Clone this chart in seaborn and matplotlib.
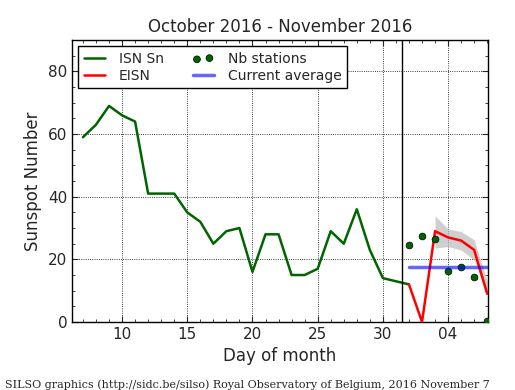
import matplotlib
matplotlib.use("Agg")
import matplotlib.pyplot as plt
from matplotlib.ticker import MultipleLocator
import seaborn as sns
import numpy as np

# daily total sunspot number (day of month, Oct 7 -> Nov 1 = day 32)
isn_days = list(range(7, 33))
isn_vals = [59, 63, 69, 66, 64, 41, 41, 41, 35, 32, 25, 29, 30, 16, 28, 28,
            15, 15, 17, 29, 25, 36, 23, 14, 13, 12]

# estimated ISN (Nov 1 -> Nov 7)
eisn_days = [32, 33, 34, 35, 36, 37, 38]
eisn_vals = [12, 0, 29, 27, 26, 23, 9]

# error band around EISN
band_days = [34, 35, 36, 37, 38]
band_low = [23.6, 24.1, 23.0, 19.8, 8.5]
band_high = [33.9, 29.7, 28.9, 26.2, 13.0]

# number of stations
stat_days = [32, 33, 34, 35, 36, 37, 38]
stat_vals = [24.5, 27.6, 26.6, 16.4, 17.7, 14.5, 0.4]

avg_days = [32, 38]
avg_vals = [17.5, 17.5]

tick_pos = [10, 15, 20, 25, 30, 35]
tick_lab = ["10", "15", "20", "25", "30", "04"]

sns.set_style("ticks")
plt.rcParams["font.family"] = ["DejaVu Sans"]
plt.rcParams["xtick.direction"] = "in"
plt.rcParams["ytick.direction"] = "in"
plt.rcParams["xtick.top"] = True
plt.rcParams["ytick.right"] = True

fig = plt.figure(figsize=(5.15, 3.9), dpi=100)
ax = fig.add_axes([0.14, 0.1744, 0.8076, 0.7226])

sns.lineplot(x=isn_days, y=isn_vals, color="#006400", lw=1.8, ax=ax, label="ISN Sn", zorder=3)
ax.fill_between(band_days, band_low, band_high, color="#bbbbbb", alpha=0.7, lw=0, zorder=2)
sns.lineplot(x=eisn_days, y=eisn_vals, color="red", lw=1.8, ax=ax, label="EISN", zorder=3)
sns.scatterplot(x=stat_days, y=stat_vals, color="#006400", edgecolor="black", linewidth=0.5,
                s=24, ax=ax, label="Nb stations", zorder=4)
sns.lineplot(x=avg_days, y=avg_vals, color="blue", alpha=0.6, lw=2.5, ax=ax,
             label="Current average", zorder=5)

ax.axvline(31.5, color="black", lw=1.0, zorder=4)

ax.set_xlim(6.17, 38.06)
ax.set_ylim(0, 90)
ax.set_xticks(tick_pos)
ax.set_xticklabels(tick_lab)
ax.xaxis.set_minor_locator(MultipleLocator(1))
ax.yaxis.set_minor_locator(MultipleLocator(5))
ax.set_yticks([0, 20, 40, 60, 80])
ax.tick_params(which="major", length=4, width=0.8, labelsize=11)
ax.tick_params(which="minor", length=2, width=0.6)
ax.grid(True, which="major", color="black", linestyle=":", lw=0.6)
for sp in ax.spines.values():
    sp.set_linewidth(1.0)
    sp.set_color("black")

ax.set_title("October 2016 - November 2016", fontsize=12)
ax.set_xlabel("Day of month", fontsize=12)
ax.set_ylabel("Sunspot Number", fontsize=12)

leg = ax.legend(loc="upper left", ncol=2, fontsize=10, scatterpoints=2, fancybox=False,
                framealpha=1, edgecolor="black", borderaxespad=0.45, handlelength=1.5,
                handletextpad=1.0, columnspacing=2.1, labelspacing=0.2, borderpad=0.4)
leg.get_frame().set_linewidth(1.0)

fig.text(0.01, 0.006, "SILSO graphics (http://sidc.be/silso) Royal Observatory of Belgium, 2016 November 7",
         family="DejaVu Serif", fontsize=8)

fig.savefig("out.png", dpi=100)
